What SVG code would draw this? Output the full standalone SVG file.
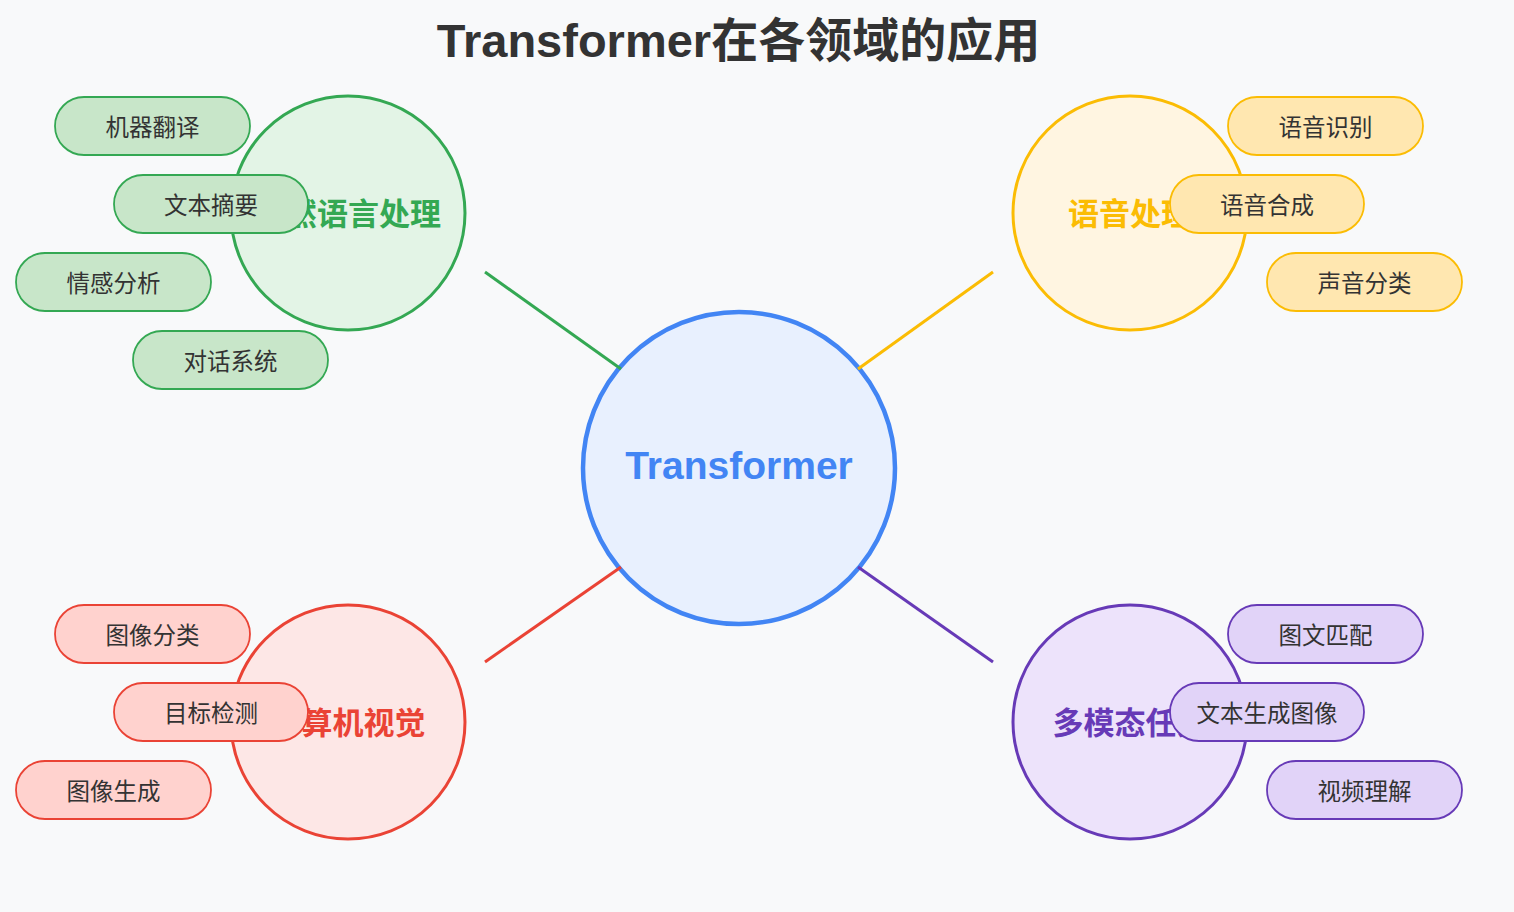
<svg xmlns="http://www.w3.org/2000/svg" width="1514" height="912" viewBox="0 0 1514 912">
<style>
.title{font-family:"Liberation Sans","Noto Sans CJK SC",sans-serif;font-size:47px;font-weight:bold;fill:#333;text-anchor:middle}
.hub{font-family:"Liberation Sans","Noto Sans CJK SC",sans-serif;font-size:39px;font-weight:bold;fill:#4285F4;text-anchor:middle}
.lbl{font-family:"Noto Sans CJK SC",sans-serif;font-size:31px;font-weight:bold;text-anchor:middle;dominant-baseline:central}
.pt{font-family:"Noto Sans CJK SC",sans-serif;font-size:23.5px;fill:#333;text-anchor:middle;dominant-baseline:central}
.pill{stroke-width:1.8}
.cat{stroke-width:3}
.g .cat{fill:#E3F4E6;stroke:#34A853}.g .pill{fill:#C8E6C9;stroke:#34A853}.g .lbl{fill:#34A853}
.y .cat{fill:#FFF5E1;stroke:#FBBC04}.y .pill{fill:#FFE7B0;stroke:#FBBC04}.y .lbl{fill:#FBBC04}
.r .cat{fill:#FDE7E6;stroke:#EA4335}.r .pill{fill:#FFD2CE;stroke:#EA4335}.r .lbl{fill:#EA4335}
.p .cat{fill:#EDE3FB;stroke:#673AB7}.p .pill{fill:#E1D3F8;stroke:#673AB7}.p .lbl{fill:#673AB7}
</style>
<rect width="1514" height="912" fill="#F8F9FA"/>
<text class="title" x="738.5" y="57">Transformer在各领域的应用</text>
<g id="center">
<circle cx="739" cy="468" r="156" fill="#E8F0FE" stroke="#4285F4" stroke-width="4.5"/>
<text class="hub" x="739" y="479">Transformer</text>
</g>
<g id="connectors" stroke-width="3" fill="none">
<line x1="485" y1="272" x2="621" y2="369" stroke="#34A853"/>
<line x1="993" y1="272" x2="858" y2="369" stroke="#FBBC04"/>
<line x1="485" y1="662" x2="621" y2="567" stroke="#EA4335"/>
<line x1="993" y1="662" x2="858" y2="567" stroke="#673AB7"/>
</g>
<g id="nlp" class="g">
<circle class="cat" cx="348" cy="213" r="117"/>
<text class="lbl" x="348" y="211">自然语言处理</text>
<rect class="pill" x="55" y="97" width="195" height="58" rx="29"/><text class="pt" x="152.5" y="126">机器翻译</text>
<rect class="pill" x="114" y="175" width="194" height="58" rx="29"/><text class="pt" x="211" y="204">文本摘要</text>
<rect class="pill" x="16" y="253" width="195" height="58" rx="29"/><text class="pt" x="113.5" y="282">情感分析</text>
<rect class="pill" x="133" y="331" width="195" height="58" rx="29"/><text class="pt" x="230.5" y="360">对话系统</text>
</g>
<g id="speech" class="y">
<circle class="cat" cx="1130" cy="213" r="117"/>
<text class="lbl" x="1130" y="211">语音处理</text>
<rect class="pill" x="1228" y="97" width="195" height="58" rx="29"/><text class="pt" x="1325.5" y="126">语音识别</text>
<rect class="pill" x="1170" y="175" width="194" height="58" rx="29"/><text class="pt" x="1267" y="204">语音合成</text>
<rect class="pill" x="1267" y="253" width="195" height="58" rx="29"/><text class="pt" x="1364.5" y="282">声音分类</text>
</g>
<g id="cv" class="r">
<circle class="cat" cx="348" cy="722" r="117"/>
<text class="lbl" x="348" y="720">计算机视觉</text>
<rect class="pill" x="55" y="605" width="195" height="58" rx="29"/><text class="pt" x="152.5" y="634">图像分类</text>
<rect class="pill" x="114" y="683" width="194" height="58" rx="29"/><text class="pt" x="211" y="712">目标检测</text>
<rect class="pill" x="16" y="761" width="195" height="58" rx="29"/><text class="pt" x="113.5" y="790">图像生成</text>
</g>
<g id="multimodal" class="p">
<circle class="cat" cx="1130" cy="722" r="117"/>
<text class="lbl" x="1130" y="720">多模态任务</text>
<rect class="pill" x="1228" y="605" width="195" height="58" rx="29"/><text class="pt" x="1325.5" y="634">图文匹配</text>
<rect class="pill" x="1170" y="683" width="194" height="58" rx="29"/><text class="pt" x="1267" y="712">文本生成图像</text>
<rect class="pill" x="1267" y="761" width="195" height="58" rx="29"/><text class="pt" x="1364.5" y="790">视频理解</text>
</g>
</svg>
